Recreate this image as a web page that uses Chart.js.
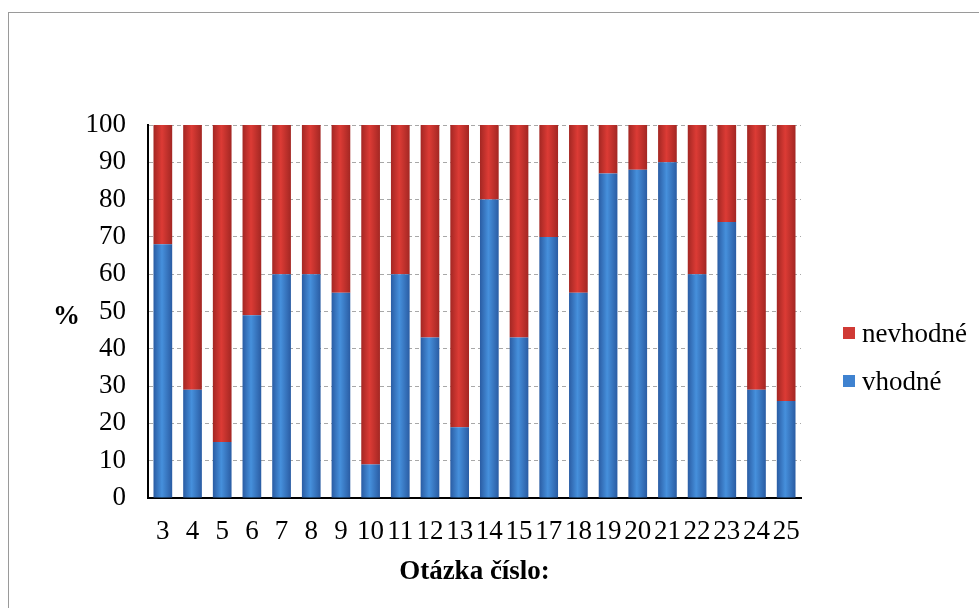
<!DOCTYPE html>
<html lang="cs">
<head>
<meta charset="utf-8">
<title>Otázka číslo</title>
<script src="https://cdn.jsdelivr.net/npm/chart.js@4.4.1/dist/chart.umd.min.js"></script>
<style>
  body { margin: 0; background: #fff; font-family: "Liberation Serif", "Times New Roman", serif; }
  #ram { position: absolute; left: 8px; top: 12px; width: 971px; height: 596px; border-left: 1px solid #9a9a9a; border-top: 1px solid #9a9a9a; }
  #graf { position: absolute; left: 0; top: 0; }
  #procenta { position: absolute; left: 53px; top: 299px; font-size: 27px; line-height: 32px; font-weight: bold; color: #000; }
  #legenda { position: absolute; left: 843px; top: 318px; font-size: 27px; color: #000; }
  .polozka { display: flex; align-items: center; height: 30px; margin-bottom: 18px; }
  .ctverec { width: 12px; height: 12px; margin-right: 7px; }
</style>
</head>
<body>
<div id="ram"></div>
<canvas id="graf" width="979" height="608"></canvas>
<div id="procenta">%</div>
<div id="legenda"></div>

<script>
// čísla otázek (16 chybí)
const otazky = ['3', '4', '5', '6', '7', '8', '9', '10', '11', '12', '13', '14', '15', '17', '18', '19', '20', '21', '22', '23', '24', '25'];
// podíly v %
const vhodne = [68, 29, 15, 49, 60, 60, 55, 9, 60, 43, 19, 80, 43, 70, 55, 87, 88, 90, 60, 74, 29, 26];
const nevhodne = [32, 71, 85, 51, 40, 40, 45, 91, 40, 57, 81, 20, 57, 30, 45, 13, 12, 10, 40, 26, 71, 74];

const sirkaSloupce = 0.63;

// válcový přechod přes šířku sloupce
function vypln(okraj, stred, zaklad) {
    return (c) => {
        const chart = c.chart;
        const x = chart.scales && chart.scales.x;
        if (!chart.chartArea || !x || c.dataIndex === undefined) return zaklad;
        const stredX = x.getPixelForValue(c.dataIndex);
        const pul = chart.chartArea.width / otazky.length * sirkaSloupce / 2;
        const g = chart.ctx.createLinearGradient(stredX - pul, 0, stredX + pul, 0);
        g.addColorStop(0, okraj);
        g.addColorStop(0.45, stred);
        g.addColorStop(1, okraj);
        return g;
    };
}

Chart.defaults.font.family = '"Liberation Serif", "Times New Roman", serif';
Chart.defaults.font.size = 27;
Chart.defaults.color = '#000';

const graf = new Chart(document.getElementById('graf'), {
    type: 'bar',
    data: {
        labels: otazky,
        datasets: [
            {
                label: 'vhodné',
                data: vhodne,
                backgroundColor: vypln('#2a5ca3', '#4690dc', '#3a78c8'),
                legendColor: '#3f82d0'
            },
            {
                label: 'nevhodné',
                data: nevhodne,
                backgroundColor: vypln('#a32723', '#dc3b35', '#c8322e'),
                legendColor: '#d03a35'
            }
        ]
    },
    options: {
        responsive: false,
        animation: false,
        layout: { padding: { top: 125, right: 178, bottom: 0, left: 0 } },
        datasets: { bar: { barPercentage: sirkaSloupce, categoryPercentage: 1 } },
        plugins: {
            legend: { display: false },
            tooltip: { enabled: false }
        },
        scales: {
            x: {
                stacked: true,
                grid: { display: false, drawTicks: false },
                border: { color: '#000', width: 2 },
                ticks: { padding: 18, maxRotation: 0, autoSkip: false },
                title: {
                    display: true,
                    text: 'Otázka číslo:',
                    font: { weight: 'bold', size: 27 },
                    padding: { top: 0, bottom: 20 }
                },
                afterFit: (s) => { s.height = 110; }
            },
            y: {
                stacked: true,
                min: 0,
                max: 100,
                ticks: { stepSize: 10, padding: 22 },
                grid: { color: '#a8a8a8', drawTicks: false },
                border: { color: '#000', width: 2, dash: [4, 3] },
                afterFit: (s) => { s.width = 148; }
            }
        }
    }
});

// legenda v pořadí jako v originálu (nevhodné nahoře)
const legenda = document.getElementById('legenda');
graf.data.datasets.slice().reverse().forEach(ds => {
    const radek = document.createElement('div');
    radek.className = 'polozka';
    radek.innerHTML = `<span class="ctverec" style="background:${ds.legendColor}"></span><span>${ds.label}</span>`;
    legenda.appendChild(radek);
});
</script>
</body>
</html>
